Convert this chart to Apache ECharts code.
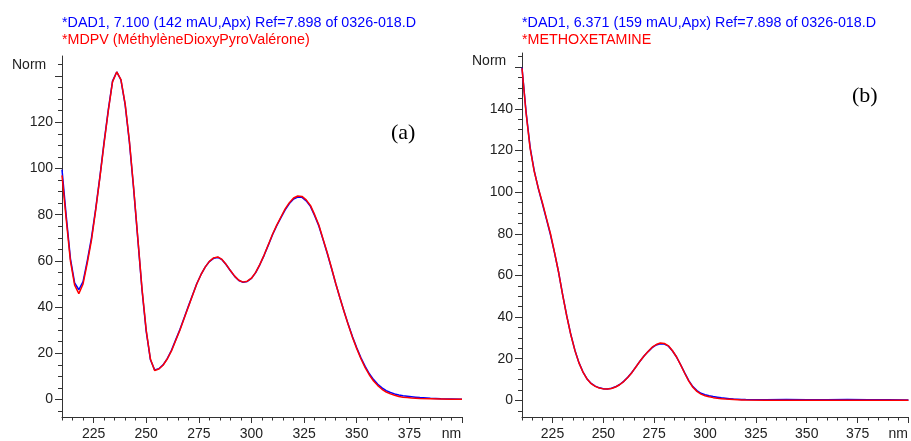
<!DOCTYPE html>
<html>
<head>
<meta charset="utf-8">
<script src="https://cdn.jsdelivr.net/npm/echarts@6/dist/echarts.min.js"></script>
<style>html,body{margin:0;padding:0;background:#fff;}#c{width:911px;height:441px;}</style>
</head>
<body>
<div id="c"></div>
<script>
// ---- Data ----
const leftNm = [210,212,214,216,218,220,222,224,226,228,230,232,234,236,238,240,242,244,246,248,250,252,254,256,258,260,262,264,266,268,270,272,274,276,278,280,282,284,286,288,290,292,294,296,298,300,302,304,306,308,310,312,314,316,318,320,322,324,326,328,330,332,334,336,338,340,342,344,346,348,350,352,354,356,358,360,362,364,366,368,370,372,374,376,378,380,385,390,395,400];
const leftBlue = [99.5,79.5,61,50.5,47.5,51,60,70,82.5,96.5,111.5,125.5,137.8,141.8,138.3,127.5,111.5,91.5,69.5,47.5,29.5,17.2,12.8,13.3,15,17.7,21.3,25.8,30.3,35.3,40.3,45.2,50.1,54,57.3,59.7,61.1,61.5,60.5,58.3,55.7,53.3,51.5,50.7,51.1,52.4,54.9,58.4,62.4,66.8,71.3,75.2,78.7,82.1,84.8,86.8,87.6,87.5,86,83.6,79.6,75.1,69.2,63.2,56.8,50.2,44,38.1,32.4,27.1,22.4,18,14.3,11.1,8.6,6.6,5,3.8,3,2.4,1.9,1.6,1.4,1.2,1.0,0.8,0.5,0.3,0.2,0.1];
const leftRed = [97,78,60,49.5,45.8,50,59,69,82,96,111,125,137.5,141.8,138.5,128,112,92,70,48,30,17.5,12.5,13.2,14.8,17.5,21,25.5,30,35,40,45,50,54,57.3,59.8,61.3,61.7,60.6,58.4,55.8,53.4,51.6,50.8,51.2,52.5,55,58.5,62.5,67,71.5,75.5,79,82.5,85.2,87.2,88.1,87.9,86.4,84,80,75.5,69.5,63.5,57,50.3,44,38,32.2,26.8,22,17.6,13.8,10.6,8,6,4.4,3.2,2.4,1.8,1.3,1.0,0.8,0.6,0.5,0.4,0.3,0.2,0.1,0.1];

const rightNm = [210,212,214,216,218,220,222,224,226,228,230,232,234,236,238,240,242,244,246,248,250,252,254,256,258,260,262,264,266,268,270,272,274,276,278,280,282,284,286,288,290,292,294,296,298,300,302,304,306,308,310,312,314,316,318,320,330,340,350,360,370,380,390,400];
const rightBlue = [159.8,138.5,121.5,110.3,101.8,94.5,87,79.5,70.8,61.5,50.6,40.6,31.6,24.1,18.1,13.6,10.3,8.1,6.8,6,5.6,5.5,5.8,6.5,7.6,9.1,11.1,13.4,16.1,18.8,21.3,23.4,25.3,26.6,27.2,27,26,23.7,20.8,17.1,13.2,9.5,6.6,4.7,3.4,2.7,2.2,1.8,1.5,1.2,1.0,0.8,0.6,0.5,0.4,0.35,0.3,0.4,0.3,0.3,0.4,0.3,0.3,0.2];
const rightRed = [159.5,138,121,110,102,95,87.5,80,71,61.5,50.5,40.5,31.5,24,18,13.5,10.2,8,6.7,5.9,5.5,5.4,5.7,6.4,7.5,9,11,13.3,16,18.8,21.3,23.5,25.5,26.8,27.5,27.3,26.2,23.8,20.8,17,13,9.2,6.3,4.3,3,2.2,1.7,1.3,1.0,0.8,0.6,0.5,0.4,0.3,0.2,0.15,0.1,0.1,0.1,0.1,0.1,0.1,0.1,0.1];

const xTickLabels = [225,250,275,300,325,350,375];
const xUnitLabel = 'nm';
const leftYTickLabels = [0,20,40,60,80,100,120];
const rightYTickLabels = [0,20,40,60,80,100,120,140];
const yUnitLabel = 'Norm';

const titles = {
  leftBlue: '*DAD1, 7.100 (142 mAU,Apx) Ref=7.898 of 0326-018.D',
  leftRed: '*MDPV (MéthylèneDioxyPyroValérone)',
  rightBlue: '*DAD1, 6.371 (159 mAU,Apx) Ref=7.898 of 0326-018.D',
  rightRed: '*METHOXETAMINE'
};

// ---- helpers ----
const FONT = 'Liberation Sans, Arial, sans-serif';
const AX = '#333';
function range(a, b, s) { const r = []; for (let v = a; v <= b + 1e-9; v += s) r.push(v); return r; }
function pairs(xs, ys) { return xs.map((x, i) => [x, ys[i]]); }

const xMajor = range(225, 400, 25);
const xMinor = range(210, 400, 5);
const UNIT_POS = 395;

function xAxes(g) {
  return [
    { type: 'value', gridIndex: g, min: 210, max: 400, position: 'bottom',
      axisLine: { show: true, onZero: false, lineStyle: { color: AX, width: 1 } },
      axisTick: { show: true, customValues: xMajor, length: 6, lineStyle: { color: AX } },
      axisLabel: { customValues: xTickLabels.concat([UNIT_POS]), formatter: v => (v === UNIT_POS ? xUnitLabel : String(v)),
                   fontSize: 14, color: '#222', margin: 10, fontFamily: FONT },
      splitLine: { show: false } },
    { type: 'value', gridIndex: g, min: 210, max: 400, position: 'bottom',
      axisLine: { show: false, onZero: false },
      axisTick: { show: true, customValues: xMinor, length: 3.5, lineStyle: { color: AX } },
      axisLabel: { show: false }, splitLine: { show: false } }
  ];
}
function yAxes(g, min, max, labels, majorTop, minorTop) {
  return [
    { type: 'value', gridIndex: g, min: min, max: max, position: 'left',
      axisLine: { show: true, onZero: false, lineStyle: { color: AX, width: 1 } },
      axisTick: { show: true, customValues: range(0, majorTop, 20), length: 7, lineStyle: { color: AX } },
      axisLabel: { customValues: labels, fontSize: 14, color: '#222', margin: 9, fontFamily: FONT, padding: [0, 0, 3, 0] },
      splitLine: { show: false } },
    { type: 'value', gridIndex: g, min: min, max: max, position: 'left',
      axisLine: { show: false, onZero: false },
      axisTick: { show: true, customValues: range(-5, minorTop, 5), length: 4, lineStyle: { color: AX } },
      axisLabel: { show: false }, splitLine: { show: false } }
  ];
}
function txt(text, left, top, color, size, family) {
  return { text: text, left: left, top: top, padding: 0,
           textStyle: { color: color, fontSize: size, fontWeight: 'normal', fontFamily: family || FONT } };
}

const chart = echarts.init(document.getElementById('c'), null, { renderer: 'canvas' });
const lineBase = { type: 'line', showSymbol: false, symbol: 'none', smooth: false, animation: false };

chart.setOption({
  animation: false,
  backgroundColor: '#fff',
  title: [
    txt(titles.leftBlue, 62, 16, '#0000ff', 14.3),
    txt(titles.leftRed, 62, 33, '#ff0000', 14.3),
    txt(titles.rightBlue, 522, 16, '#0000ff', 14.3),
    txt(titles.rightRed, 522, 33, '#ff0000', 14.3),
    txt(yUnitLabel, 12, 58, '#222', 14),
    txt(yUnitLabel, 472, 54, '#222', 14),
    txt('(a)', 391, 122, '#000', 22, 'Liberation Serif, Times New Roman, serif'),
    txt('(b)', 852, 85, '#000', 22, 'Liberation Serif, Times New Roman, serif')
  ],
  grid: [
    { left: 62, top: 56, width: 400, height: 364 },
    { left: 522, top: 53, width: 400, height: 365.5 }
  ],
  xAxis: xAxes(0).concat(xAxes(1)),
  yAxis: yAxes(0, -7.6, 148.7, leftYTickLabels, 140, 145).concat(yAxes(1, -8, 166.8, rightYTickLabels, 160, 165)),
  series: [
    Object.assign({}, lineBase, { xAxisIndex: 0, yAxisIndex: 0, data: pairs(leftNm, leftBlue), lineStyle: { color: '#0000ff', width: 1.5 } }),
    Object.assign({}, lineBase, { xAxisIndex: 0, yAxisIndex: 0, data: pairs(leftNm, leftRed), lineStyle: { color: '#ff0000', width: 1.5 } }),
    Object.assign({}, lineBase, { xAxisIndex: 2, yAxisIndex: 2, data: pairs(rightNm, rightBlue), lineStyle: { color: '#0000ff', width: 1.5 } }),
    Object.assign({}, lineBase, { xAxisIndex: 2, yAxisIndex: 2, data: pairs(rightNm, rightRed), lineStyle: { color: '#ff0000', width: 1.5 } })
  ]
});
</script>
</body>
</html>
